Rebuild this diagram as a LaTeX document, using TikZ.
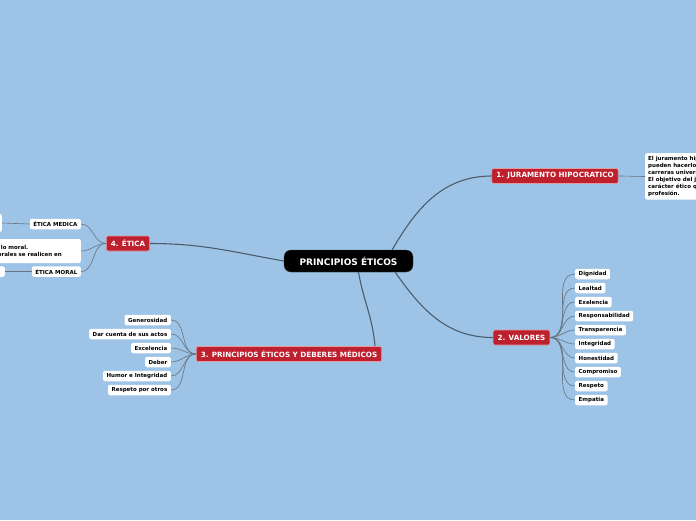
\documentclass[tikz,border=0pt]{standalone}
\usepackage{fontspec}
\setmainfont{DejaVu Sans}
\definecolor{fondo}{RGB}{157,195,230}
\definecolor{rojo}{RGB}{190,32,46}
\definecolor{gris}{RGB}{78,92,106}
\tikzset{
  central/.style={fill=black, draw=gray!50!black, rounded corners=7pt, text=white,
    font=\bfseries\fontsize{9}{10}\selectfont, minimum width=129pt, minimum height=22pt, inner sep=0pt},
  tema/.style={fill=rojo, draw=rojo!45!white, line width=0.6pt, rounded corners=2pt, text=white,
    font=\bfseries\fontsize{7.2}{8}\selectfont, minimum height=15pt, inner xsep=4.5pt, inner ysep=0pt},
  hoja/.style={fill=white, rounded corners=2pt, font=\bfseries\fontsize{5.5}{6.5}\selectfont,
    minimum height=10.5pt, inner xsep=3.5pt, inner ysep=0pt},
  nota/.style={hoja, align=left, font=\bfseries\fontsize{5.5}{7}\selectfont, inner xsep=3pt, inner ysep=3pt},
  rama/.style={draw=gris, line width=1.1pt},
  ramita/.style={draw=gris!85!white, line width=0.6pt},
}
\begin{document}
\begin{tikzpicture}[x=1pt, y=-1pt]
  \fill[fondo] (0,0) rectangle (696,520);
  \useasboundingbox (0,0) rectangle (696,520);
  \clip (0,0) rectangle (696,520);
  % nodo central y temas
  \node[central] (centro) at (348.5,261) {PRINCIPIOS ÉTICOS};
  \node[tema] (juramento) at (555,176) {1. JURAMENTO HIPOCRATICO};
  \node[tema] (valores) at (521.5,337.5) {2. VALORES};
  \node[tema] (deberes) at (289,354) {3. PRINCIPIOS ÉTICOS Y DEBERES MÉDICOS};
  \node[tema] (etica) at (128,243.5) {4. ÉTICA};
  \draw[rama] ([xshift=-21pt]centro.north east) to[out=60, in=180] (juramento.west);
  \draw[rama] ([xshift=-18pt]centro.south east) to[out=-55, in=180] (valores.west);
  \draw[rama] ([xshift=10pt]centro.south) to[out=-80, in=95] ([xshift=-7pt]deberes.north east);
  \draw[rama] (centro.west) to[out=170, in=0] (etica.east);
  % 1
  \node[nota, anchor=north west] (juranota) at (645,153) {El juramento hipocrático es un juramento público que\\
    pueden hacerlo los graduados de las\\
    carreras universitarias relacionadas con la medicina.\\
    El objetivo del juramento es reforzar el\\
    carácter ético que debe tener el ejercicio de la\\
    profesión.};
  \draw[ramita] (juramento.east) to[out=0, in=180] (juranota.west);
  % 2
  \foreach \v [count=\i] in {Dignidad, Lealtad, Exelencia, Responsabilidad, Transparencia,
      Integridad, Honestidad, Compromiso, Respeto, Empatia}{
    \node[hoja, anchor=west] (valor\i) at (575,260+14*\i) {\v};
    \draw[ramita] (valores.east) to[out=0, in=180] (valor\i.west);
  }
  % 3
  \foreach \d [count=\i] in {Generosidad, Dar cuenta de sus actos, Excelencia, Deber,
      Humor e Integridad, Respeto por otros}{
    \node[hoja, anchor=east] (deber\i) at (171,306+14*\i) {\d};
    \draw[ramita] (deberes.west) to[out=180, in=0] (deber\i.east);
  }
  % 4
  \node[hoja, anchor=east] (medica) at (81,224) {ÉTICA MEDICA};
  \node[nota, anchor=east, text width=155pt, minimum height=24pt] (eticanota) at (81,251)
    {Es la ciencia que estudia lo moral.\\Busca que las normas morales se realicen en};
  \node[hoja, anchor=east] (moral) at (81,271.5) {ÉTICA MORAL};
  \node[hoja, anchor=east, minimum width=50pt, minimum height=18pt] (medicanota) at (2,223) {};
  \node[hoja, anchor=east, minimum width=50pt] (moralnota) at (5,271.5) {};
  \draw[ramita] (etica.west) to[out=180, in=0] (medica.east);
  \draw[ramita] (etica.west) to[out=180, in=0] (eticanota.east);
  \draw[ramita] (etica.west) to[out=180, in=0] (moral.east);
  \draw[ramita] (medica.west) -- (medicanota.east);
  \draw[ramita] (moral.west) -- (moralnota.east);
\end{tikzpicture}
\end{document}
